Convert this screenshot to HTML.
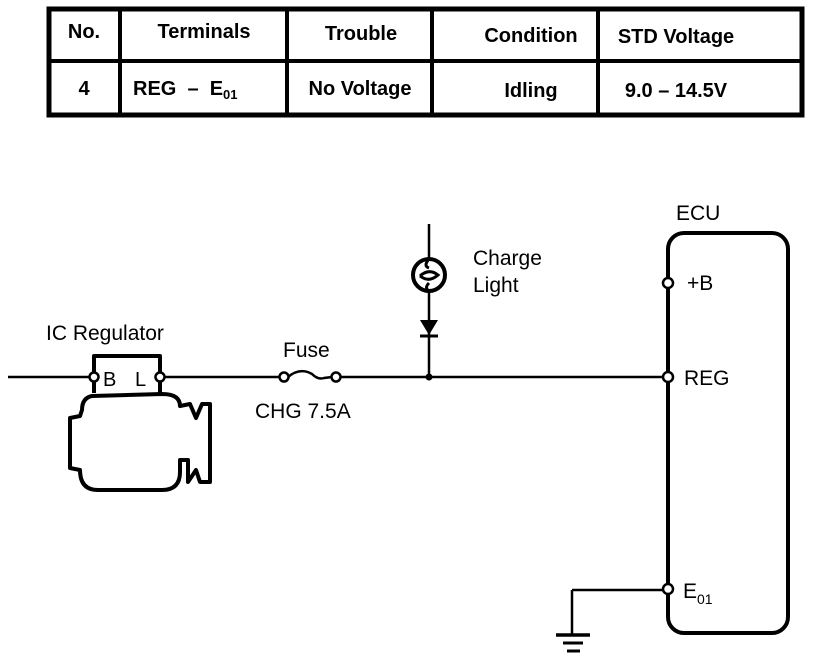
<!DOCTYPE html>
<html><head><style>
body{margin:0;background:#fff;width:816px;height:660px;overflow:hidden}
svg text{font-family:"Liberation Sans",Arial,sans-serif;fill:#000}
</style></head><body>
<svg width="816" height="660" viewBox="0 0 816 660" xmlns="http://www.w3.org/2000/svg">
<g stroke="#000" fill="none">
<rect x="49" y="9" width="753" height="106" stroke-width="5"/>
<line x1="49" y1="61" x2="802" y2="61" stroke-width="4"/>
<line x1="120" y1="9" x2="120" y2="115" stroke-width="4"/>
<line x1="287" y1="9" x2="287" y2="115" stroke-width="4"/>
<line x1="432" y1="9" x2="432" y2="115" stroke-width="4"/>
<line x1="598" y1="9" x2="598" y2="115" stroke-width="4"/>
</g>
<g font-size="20" font-weight="bold">
<text x="84" y="38" text-anchor="middle">No.</text>
<text x="204" y="38" text-anchor="middle">Terminals</text>
<text x="361" y="40" text-anchor="middle">Trouble</text>
<text x="531" y="42" text-anchor="middle">Condition</text>
<text x="676" y="43" text-anchor="middle">STD Voltage</text>
<text x="84" y="95" text-anchor="middle">4</text>
<text x="133" y="95" xml:space="preserve">REG  –  E<tspan font-size="13" dy="4">01</tspan></text>
<text x="360" y="95" text-anchor="middle">No Voltage</text>
<text x="531" y="97" text-anchor="middle">Idling</text>
<text x="676" y="97" text-anchor="middle">9.0 – 14.5V</text>
</g>
<g stroke="#000" fill="none" stroke-width="2.5">
<line x1="8" y1="377" x2="89" y2="377"/>
<line x1="162" y1="377" x2="280" y2="377"/>
<line x1="340" y1="377" x2="664" y2="377"/>
<path d="M288 377 Q300 367 312 374 Q318 380 324 378 L332 377"/>
<line x1="429" y1="224" x2="429" y2="377"/>
<line x1="572" y1="590" x2="664" y2="590"/>
<line x1="572" y1="590" x2="572" y2="634"/>
<line x1="556" y1="635" x2="590" y2="635" stroke-width="3.5"/>
<line x1="563" y1="643" x2="583" y2="643" stroke-width="3"/>
<line x1="567" y1="651" x2="580" y2="651" stroke-width="3"/>
</g>
<circle cx="429" cy="377" r="3.5" fill="#000"/>
<circle cx="429" cy="275" r="16" fill="#fff" stroke="#000" stroke-width="4"/>
<path d="M429 259 Q423 266 429 268 M420 276 Q429 268 438 275 Q429 283 420 276 M429 283 Q424 288 429 291" stroke="#000" stroke-width="3" fill="none"/>
<polygon points="420,320 438,320 429,335" fill="#000"/>
<line x1="420" y1="336" x2="438" y2="336" stroke="#000" stroke-width="3"/>
<g fill="#fff" stroke="#000" stroke-width="2.5">
<circle cx="284" cy="377" r="4.5"/>
<circle cx="336" cy="377" r="4.5"/>
</g>
<g stroke="#000" fill="none" stroke-width="4" stroke-linejoin="round">
<path d="M94 393 L94 356 L160 356 L160 393"/>
<path d="M92 396 Q82 398 82 410 L80 416 L70 418 L70 468 L80 470 Q80 490 98 490 L162 490 Q180 490 180 472 L180 460 L188 460 L188 482 L196 470 L200 482 L210 482 L210 404 L202 404 L196 418 L190 404 L180 406 Q180 394 162 394 Z"/>
</g>
<g fill="#fff" stroke="#000" stroke-width="2.5">
<circle cx="94" cy="377" r="4.5"/>
<circle cx="160" cy="377" r="4.5"/>
</g>
<rect x="668" y="233" width="120" height="400" rx="16" fill="none" stroke="#000" stroke-width="4"/>
<g fill="#fff" stroke="#000" stroke-width="2.5">
<circle cx="668" cy="283" r="5"/>
<circle cx="668" cy="377" r="5"/>
<circle cx="668" cy="589" r="5"/>
</g>
<g font-size="21">
<text x="676" y="220">ECU</text>
<text x="687" y="290">+B</text>
<text x="684" y="385">REG</text>
<text x="683" y="598">E<tspan font-size="14" dy="6">01</tspan></text>
<text x="473" y="265">Charge</text>
<text x="473" y="292">Light</text>
<text x="283" y="357">Fuse</text>
<text x="255" y="418">CHG 7.5A</text>
<text x="46" y="340">IC Regulator</text>
<text x="103" y="386" font-size="20">B</text>
<text x="135" y="386" font-size="20">L</text>
</g>
</svg>
</body></html>
